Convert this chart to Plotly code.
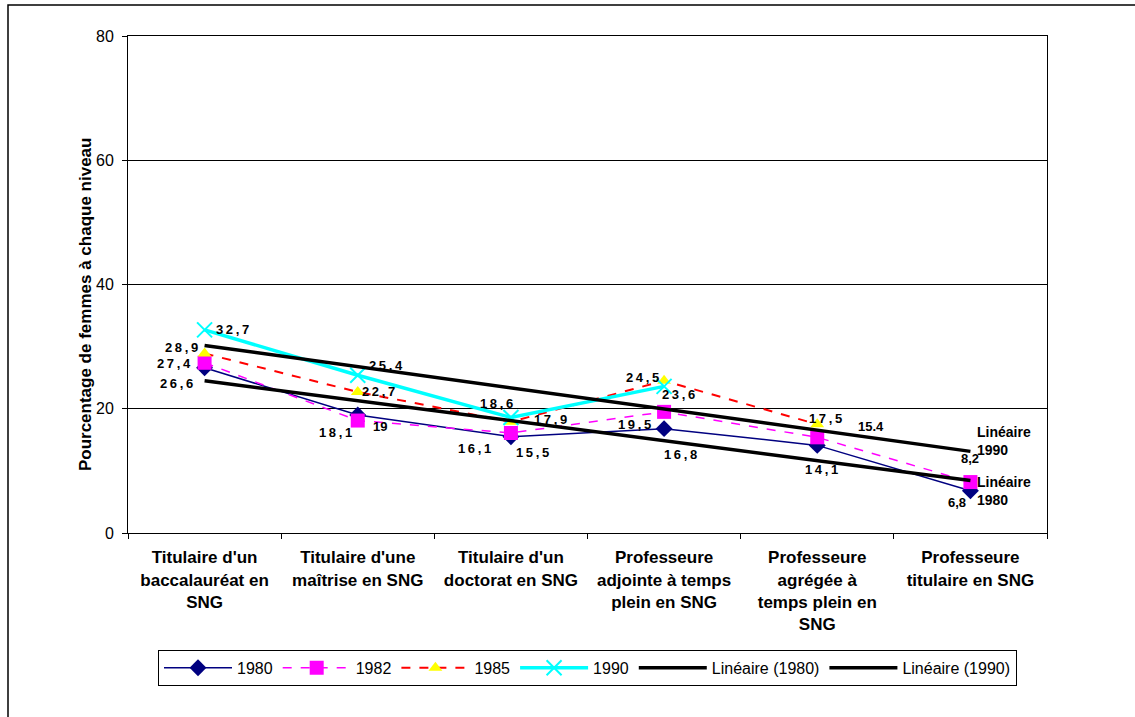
import numpy as np
import plotly.graph_objects as go

categories = [
    "Titulaire d'un<br>baccalauréat en<br>SNG",
    "Titulaire d'une<br>maîtrise en SNG",
    "Titulaire d'un<br>doctorat en SNG",
    "Professeure<br>adjointe à temps<br>plein en SNG",
    "Professeure<br>agrégée à<br>temps plein en<br>SNG",
    "Professeure<br>titulaire en SNG",
]
v1980 = [26.6, 19.0, 15.5, 16.8, 14.1, 6.8]
v1982 = [27.4, 18.1, 16.1, 19.5, 15.4, 8.2]
v1985 = [28.9, 22.7, 17.9, 24.5, 17.5]
v1990 = [32.7, 25.4, 18.6, 23.6]

lab1980 = ["26,6", "19", "15,5", "16,8", "14,1", "6,8"]
lab1982 = ["27,4", "18,1", "16,1", "19,5", "15.4", "8,2"]
lab1985 = ["28,9", "22,7", "17,9", "24,5", "17,5"]
lab1990 = ["32,7", "25,4", "18,6", "23,6"]

y_ticks = [0, 20, 40, 60, 80]

FONT = "Arial, Liberation Sans, sans-serif"


def trend(vals, n):
    x = np.arange(1, len(vals) + 1)
    a, b = np.polyfit(x, vals, 1)
    xs = np.arange(1, n + 1)
    return list(a * xs + b)


t1980 = trend(v1980, len(categories))
t1990 = trend(v1990, len(categories))

fig = go.Figure()
fig.add_trace(go.Scatter(x=categories[:len(v1980)], y=v1980, name="1980", mode="lines+markers",
                         line=dict(color="#000080", width=1.5),
                         marker=dict(symbol="diamond", size=13, color="#000080")))
fig.add_trace(go.Scatter(x=categories[:len(v1982)], y=v1982, name="1982", mode="lines+markers",
                         line=dict(color="#FF00FF", width=1.5, dash="dash"),
                         marker=dict(symbol="square", size=14, color="#FF00FF")))
fig.add_trace(go.Scatter(x=categories[:len(v1985)], y=v1985, name="1985", mode="lines+markers",
                         line=dict(color="#FF0000", width=2, dash="dash"),
                         marker=dict(symbol="triangle-up", size=12, color="#FFFF00")))
fig.add_trace(go.Scatter(x=categories[:len(v1990)], y=v1990, name="1990", mode="lines+markers",
                         line=dict(color="#00FFFF", width=3.5),
                         marker=dict(symbol="x-thin", size=15, color="#00FFFF",
                                     line=dict(color="#00FFFF", width=2))))
fig.add_trace(go.Scatter(x=categories, y=t1980, name="Linéaire (1980)", mode="lines",
                         line=dict(color="black", width=3.5)))
fig.add_trace(go.Scatter(x=categories, y=t1990, name="Linéaire (1990)", mode="lines",
                         line=dict(color="black", width=3.5)))


def spaced(s):
    if len(s) >= 4 and "," in s:
        return "\u2009".join(list(s))
    return s


annots = []
lab_font = dict(family=FONT, size=13, color="black")

offs1980 = [(-28, -16), (22, -12), (22, -16), (16, -26), (4, -24), (-13, -12)]
offs1982 = [(-31, -1), (-22, -12), (-36, -16), (-30, -13), (54, 11), (0, 24)]
offs1985 = [(-23, 6), (21, 0), (40, 2), (-22, 3), (8, 6)]
offs1990 = [(28, 0), (28, 10), (-14, 14), (14, -8)]

for vals, labs, offs in [(v1980, lab1980, offs1980), (v1982, lab1982, offs1982),
                         (v1985, lab1985, offs1985), (v1990, lab1990, offs1990)]:
    for i, (v, l) in enumerate(zip(vals, labs)):
        annots.append(dict(x=categories[i], y=v, xref="x", yref="y", text="<b>" + spaced(l) + "</b>",
                           showarrow=False, font=lab_font, xshift=offs[i][0], yshift=offs[i][1]))

annots.append(dict(x=categories[-1], y=t1990[-1], xref="x", yref="y",
                   text="<b>Linéaire</b><br><b>1990</b>", showarrow=False, align="left",
                   xanchor="left", font=dict(family=FONT, size=14, color="black"),
                   xshift=5, yshift=10))
annots.append(dict(x=categories[-1], y=t1980[-1], xref="x", yref="y",
                   text="<b>Linéaire</b><br><b>1980</b>", showarrow=False, align="left",
                   xanchor="left", font=dict(family=FONT, size=14, color="black"),
                   xshift=5, yshift=-10))

annots.append(dict(x=-0.058, y=0.461, xref="paper", yref="paper", textangle=-90,
                   text="<b>Pourcentage de femmes à chaque niveau</b>", showarrow=False,
                   font=dict(family=FONT, size=17, color="black")))

fig.update_layout(
    width=1135, height=717,
    margin=dict(l=128, r=88, t=36, b=184),
    paper_bgcolor="white", plot_bgcolor="white",
    font=dict(family=FONT, color="black"),
    annotations=annots,
    showlegend=True,
    legend=dict(orientation="h", x=0.5, xanchor="center", y=-0.235, yanchor="top",
                bordercolor="black", borderwidth=1, font=dict(family=FONT, size=16),
                itemwidth=68, tracegroupgap=0),
    shapes=[dict(type="rect", xref="paper", yref="paper",
                 x0=(8 - 128) / 919, x1=(1145 - 128) / 919,
                 y0=(533 - 730) / 497, y1=(533 - 5) / 497,
                 line=dict(color="black", width=1.5))],
)
fig.update_xaxes(type="category", tickson="boundaries", ticks="outside", ticklen=5,
                 tickcolor="black", showline=True, linecolor="black", linewidth=1, mirror=True,
                 showgrid=False, tickfont=dict(family=FONT, size=17, color="black"),
                 tickprefix="<b>", ticksuffix="</b>", range=[-0.5, 5.5], ticklabelstandoff=9)
fig.update_yaxes(range=[0, 80], tickvals=y_ticks, ticks="outside", ticklen=5, tickcolor="black",
                 showline=True, linecolor="black", linewidth=1, mirror=True,
                 showgrid=True, gridcolor="black", gridwidth=1, zeroline=False,
                 tickfont=dict(family=FONT, size=16, color="black"), ticklabelstandoff=5)

fig.write_html("out.html", config={"displayModeBar": False},
               post_script="document.body.style.margin='0px';document.body.style.overflow='hidden';")
